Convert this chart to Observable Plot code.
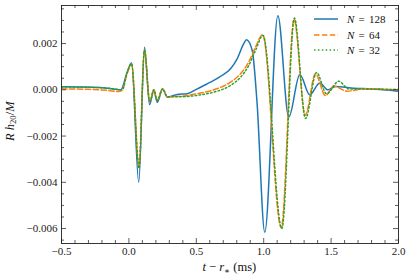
<!DOCTYPE html>
<html>
<head>
<meta charset="utf-8">
<script src="https://cdn.jsdelivr.net/npm/d3@7"></script>
<script src="https://cdn.jsdelivr.net/npm/@observablehq/plot@0.6"></script>
<style>
  html, body { margin: 0; padding: 0; background: #fff; }
  #wrap { position: relative; width: 407px; height: 277px; font-family: "Liberation Serif", "DejaVu Serif", serif; color: #111; }
  #wrap svg text, #wrap svg tspan { font-family: "Liberation Serif", "DejaVu Serif", serif !important; font-size: 11px; fill: #222; }
  .lab { position: absolute; white-space: nowrap; font-size: 12.5px; line-height: 1; }
  .leg { position: absolute; white-space: nowrap; font-size: 11px; line-height: 1; word-spacing: 1.5px; }
  .leg svg { position: absolute; left: 0; top: 0; }
  .leg span { position: absolute; left: 33px; top: -5px; }
  sub { font-size: 0.7em; vertical-align: -0.3em; line-height: 0; }
</style>
</head>
<body>
<div id="wrap"></div>
<script>
// ---- data ----
const t128 = [-0.5, -0.35, -0.2, -0.1, -0.06, -0.013, 0.02, 0.073, 0.116, 0.153, 0.185, 0.21, 0.25, 0.286, 0.358, 0.433, 0.507, 0.605, 0.68, 0.754, 0.803, 0.852, 0.872, 0.915, 0.95, 1.008, 1.105, 1.186, 1.268, 1.342, 1.416, 1.476, 1.533, 1.65, 1.8, 2.0];
const v128 = [0.00013, 0.00012, 0.00009, 0.00002, 0.0, 0.00076, 0.00117, -0.0040, 0.00184, -0.00064, -0.00003, -0.00054, 0.00003, -0.00032, -0.0002, -0.00017, 0.00004, 0.00033, 0.00058, 0.00091, 0.00134, 0.0020, 0.00216, 0.0017, -0.0005, -0.00616, 0.0032, -0.00118, 0.00066, -0.00022, 0.00029, 0.0, 0.00014, 0.00008, 0.00003, -0.00006];

const t64 = [-0.5, -0.3, -0.15, -0.08, -0.05, -0.013, 0.02, 0.075, 0.115, 0.155, 0.185, 0.21, 0.25, 0.285, 0.383, 0.507, 0.63, 0.754, 0.828, 0.889, 0.939, 0.992, 1.13, 1.225, 1.308, 1.384, 1.458, 1.52, 1.619, 1.75, 2.0];
const v64 = [0.00004, 0.00002, -0.00003, -0.00007, -0.00002, 0.0007, 0.0011, -0.0033, 0.0017, -0.0005, 0.0, -0.00045, 0.00004, -0.0003, -0.00028, -0.00017, 0.0, 0.00033, 0.00069, 0.0012, 0.00184, 0.00238, -0.00597, 0.00305, -0.0011, 0.00069, -0.00025, 0.00016, -0.00006, 0.00005, 0.0];

const t32 = [-0.5, -0.3, -0.15, -0.08, -0.05, -0.013, 0.02, 0.075, 0.115, 0.155, 0.185, 0.21, 0.25, 0.285, 0.383, 0.507, 0.63, 0.754, 0.828, 0.889, 0.939, 0.995, 1.135, 1.228, 1.31, 1.392, 1.466, 1.557, 1.629, 1.75, 2.0];
const v32 = [0.00012, 0.00011, 0.00007, 0.00001, 0.0, 0.00075, 0.00112, -0.0034, 0.0017, -0.0005, 0.0, -0.00045, 0.00004, -0.0003, -0.0003, -0.00024, -0.0001, 0.00019, 0.00054, 0.00105, 0.0017, 0.00235, -0.0060, 0.0031, -0.00124, 0.00075, -0.00017, 0.00037, 0.00004, 0.00003, 0.00001];

const seriesNames = ["N = 128", "N = 64", "N = 32"];
const seriesColors = ["#1f77b4", "#ff7f0e", "#2ca02c"];

const xTicks = [-0.5, 0.0, 0.5, 1.0, 1.5, 2.0];
const yTicks = [-0.006, -0.004, -0.002, 0.0, 0.002];
const xDomain = [-0.5, 2.0];
const yDomain = [-0.006646, 0.003645];

// ---- layout ----
const W = 407, H = 277, mL = 61, mR = 9, mT = 5, mB = 34;
const pW = W - mL - mR, pH = H - mT - mB;
const majorLen = 5, minorLen = 3;

const xMinor = d3.range(-5, 21).map(i => i / 10).filter(v => !xTicks.some(t => Math.abs(t - v) < 1e-9));
const yMinor = d3.range(-13, 8).map(i => i * 0.0005).filter(v => v >= yDomain[0] && v <= yDomain[1] && !yTicks.some(t => Math.abs(t - v) < 1e-9));

const mk = (ts, vs) => ts.map((t, i) => ({t, v: vs[i]}));
const d128 = mk(t128, v128), d64 = mk(t64, v64), d32 = mk(t32, v32);

const tickStroke = {stroke: "#333", strokeWidth: 0.8};
const serif = "'Liberation Serif', 'DejaVu Serif', serif";

const chart = Plot.plot({
  width: W, height: H,
  marginLeft: mL, marginRight: mR, marginTop: mT, marginBottom: mB,
  x: {domain: xDomain},
  y: {domain: yDomain},
  style: {fontFamily: serif, fontSize: "11px", color: "#222", background: "#fff"},
  marks: [
    Plot.line(d128, {x: "t", y: "v", stroke: seriesColors[0], strokeWidth: 1.5, curve: "monotone-x", clip: true}),
    Plot.line(d64, {x: "t", y: "v", stroke: seriesColors[1], strokeWidth: 1.5, strokeDasharray: "5.5,2.4", curve: "monotone-x", clip: true}),
    Plot.line(d32, {x: "t", y: "v", stroke: seriesColors[2], strokeWidth: 1.5, strokeDasharray: "1.5,2.4", curve: "monotone-x", clip: true}),
    // inward ticks on all four sides
    Plot.ruleX(xTicks, {...tickStroke, insetTop: pH - majorLen}),
    Plot.ruleX(xTicks, {...tickStroke, insetBottom: pH - majorLen}),
    Plot.ruleX(xMinor, {...tickStroke, insetTop: pH - minorLen}),
    Plot.ruleX(xMinor, {...tickStroke, insetBottom: pH - minorLen}),
    Plot.ruleY(yTicks, {...tickStroke, insetRight: pW - majorLen}),
    Plot.ruleY(yTicks, {...tickStroke, insetLeft: pW - majorLen}),
    Plot.ruleY(yMinor, {...tickStroke, insetRight: pW - minorLen}),
    Plot.ruleY(yMinor, {...tickStroke, insetLeft: pW - minorLen}),
    Plot.frame({stroke: "#222", strokeWidth: 0.9}),
    Plot.axisX({ticks: xTicks, tickSize: 0, tickPadding: 4, tickFormat: d3.format(".1f"), label: null, fontFamily: serif}),
    Plot.axisY({ticks: yTicks, tickSize: 0, tickPadding: 4, tickFormat: d3.format(".3f"), label: null, fontFamily: serif})
  ]
});

const wrap = document.getElementById("wrap");
wrap.appendChild(chart);

// axis titles
const xl = document.createElement("div");
xl.className = "lab";
xl.innerHTML = "<i>t</i> − <i>r</i><sub>∗</sub> (ms)";
wrap.appendChild(xl);
xl.style.left = (mL + pW / 2 - xl.offsetWidth / 2) + "px";
xl.style.top = "261px";

const yl = document.createElement("div");
yl.className = "lab";
yl.innerHTML = "<i>R</i> <i>h</i><sub>20</sub>/<i>M</i>";
wrap.appendChild(yl);
const yw = yl.offsetWidth, yh = yl.offsetHeight;
yl.style.left = (10 - yw / 2) + "px";
yl.style.top = (121 - yh / 2) + "px";
yl.style.transform = "rotate(-90deg)";

// legend
const legY = [19, 34.5, 50];
const dashes = ["", "5.5,2.4", "1.5,2.4"];
seriesNames.forEach((name, i) => {
  const row = document.createElement("div");
  row.className = "leg";
  row.style.left = "314px";
  row.style.top = legY[i] + "px";
  const [n, rest] = name.split(" = ");
  row.innerHTML = `<svg width="26" height="4" style="top:-2px;overflow:visible"><line x1="0" y1="2" x2="24" y2="2" stroke="${seriesColors[i]}" stroke-width="1.5" stroke-dasharray="${dashes[i]}"/></svg><span><i>${n}</i> = ${rest}</span>`;
  wrap.appendChild(row);
});
</script>
</body>
</html>
